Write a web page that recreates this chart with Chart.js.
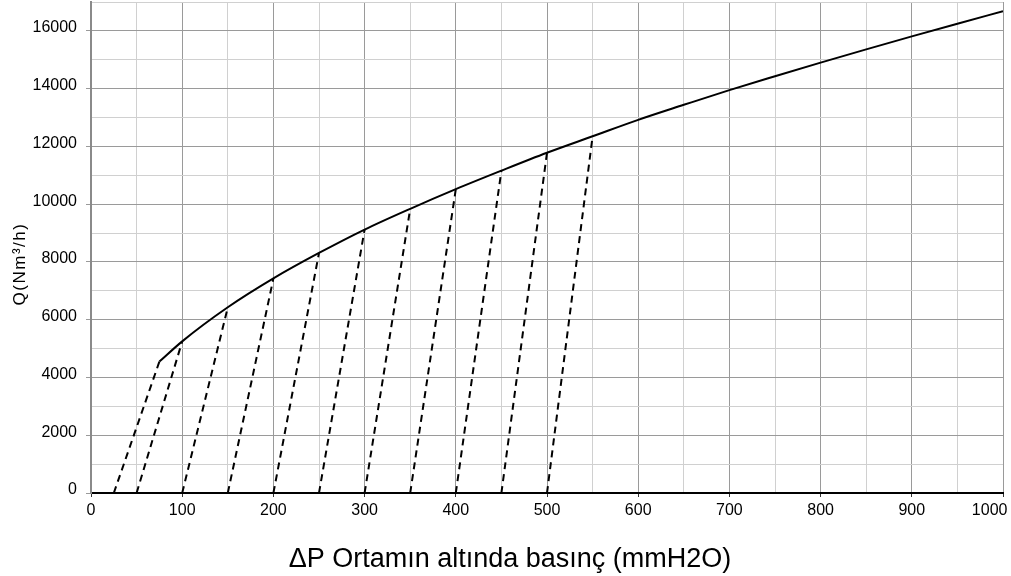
<!DOCTYPE html>
<html>
<head>
<meta charset="utf-8">
<script src="https://cdn.jsdelivr.net/npm/chart.js@4/dist/chart.umd.min.js"></script>
<style>
  html, body { margin: 0; padding: 0; background: #fff; }
  canvas { display: block; }
</style>
</head>
<body>
<canvas id="c" width="1011" height="576"></canvas>
<script>
// ---- data ----
const dP = [75, 100, 150, 200, 250, 300, 350, 400, 450, 500, 550, 600, 650, 700, 750, 800, 850, 900, 950, 1000];
const Q  = [4550, 5250, 6430, 7430, 8310, 9120, 9840, 10520, 11160, 11780, 12350, 12920, 13440, 13950, 14430, 14900, 15360, 15810, 16250, 16680];
const dashFrom = [25, 50, 100, 150, 200, 250, 300, 350, 400, 450, 500];
const dashTo   = [75, 100, 150, 200, 250, 300, 350, 400, 450, 500, 550];
const xTickStep = 50, xLabelStep = 100;
const yTickStep = 1000, yLabelStep = 2000;
const xTitle = 'ΔP Ortamın altında basınç (mmH2O)';
const yTitle = 'Q(Nm³/h)';

const FONT = "'Liberation Sans', Arial, sans-serif";
const MAJOR = '#9a9a9a', MINOR = '#d0d0d0';

const datasets = [{
  data: dP.map((x, i) => ({ x: x, y: Q[i] })),
  borderColor: '#000', borderWidth: 2, pointRadius: 0,
  cubicInterpolationMode: 'monotone', fill: false
}];
dashFrom.forEach((x0, i) => {
  const x1 = dashTo[i];
  datasets.push({
    data: [{ x: x0, y: 0 }, { x: x1, y: Q[dP.indexOf(x1)] }],
    borderColor: '#000', borderWidth: 2, borderDash: [7, 5],
    pointRadius: 0, fill: false
  });
});

const titles = {
  id: 'titles',
  afterDraw(chart) {
    const ctx = chart.ctx;
    ctx.save();
    ctx.fillStyle = '#000';
    ctx.font = "27px " + FONT;
    ctx.textAlign = 'center';
    ctx.textBaseline = 'alphabetic';
    ctx.fillText(xTitle, 510, 567);
    ctx.translate(25, 264);
    ctx.rotate(-Math.PI / 2);
    ctx.font = "17px " + FONT;
    ctx.letterSpacing = '1.5px';
    ctx.fillText(yTitle, 0, 0);
    ctx.restore();
  }
};

new Chart(document.getElementById('c'), {
  type: 'line',
  data: { datasets: datasets },
  plugins: [titles],
  options: {
    responsive: false, animation: false,
    layout: { padding: { top: 2, right: 8, left: 0, bottom: 0 } },
    plugins: { legend: { display: false }, tooltip: { enabled: false }, title: { display: false } },
    scales: {
      x: {
        type: 'linear', min: 0, max: 1000,
        afterFit: s => { s.height = 83; s.paddingLeft = 0; s.paddingRight = 0; },
        border: { color: '#000', width: 2 },
        grid: {
          color: c => (c.tick && c.tick.value % xLabelStep === 0) ? MAJOR : MINOR,
          tickColor: c => (c.tick && c.tick.value % xLabelStep === 0) ? '#333' : 'rgba(0,0,0,0)',
          tickLength: 4, lineWidth: 1
        },
        ticks: {
          stepSize: xTickStep, autoSkip: false, maxRotation: 0, padding: 4,
          color: '#000', font: { family: FONT, size: 16 },
          callback: v => (v % xLabelStep !== 0) ? '' : (v === 1000 ? '1000\u2007\u2007\u2007' : String(v))
        }
      },
      y: {
        type: 'linear', min: 0, max: 17000,
        afterFit: s => { s.width = 91; s.paddingTop = 0; s.paddingBottom = 0; },
        border: { color: '#8a8a8a', width: 2 },
        grid: {
          color: c => (c.tick && c.tick.value % yLabelStep === 0) ? MAJOR : MINOR,
          tickColor: c => (c.tick && c.tick.value % yLabelStep === 0) ? MAJOR : 'rgba(0,0,0,0)',
          tickLength: 5, lineWidth: 1
        },
        ticks: {
          stepSize: yTickStep, autoSkip: false, padding: 9, labelOffset: -3,
          color: '#000', font: { family: FONT, size: 16 },
          callback: v => (v % yLabelStep === 0) ? String(v) : ''
        }
      }
    }
  }
});
</script>
</body>
</html>
